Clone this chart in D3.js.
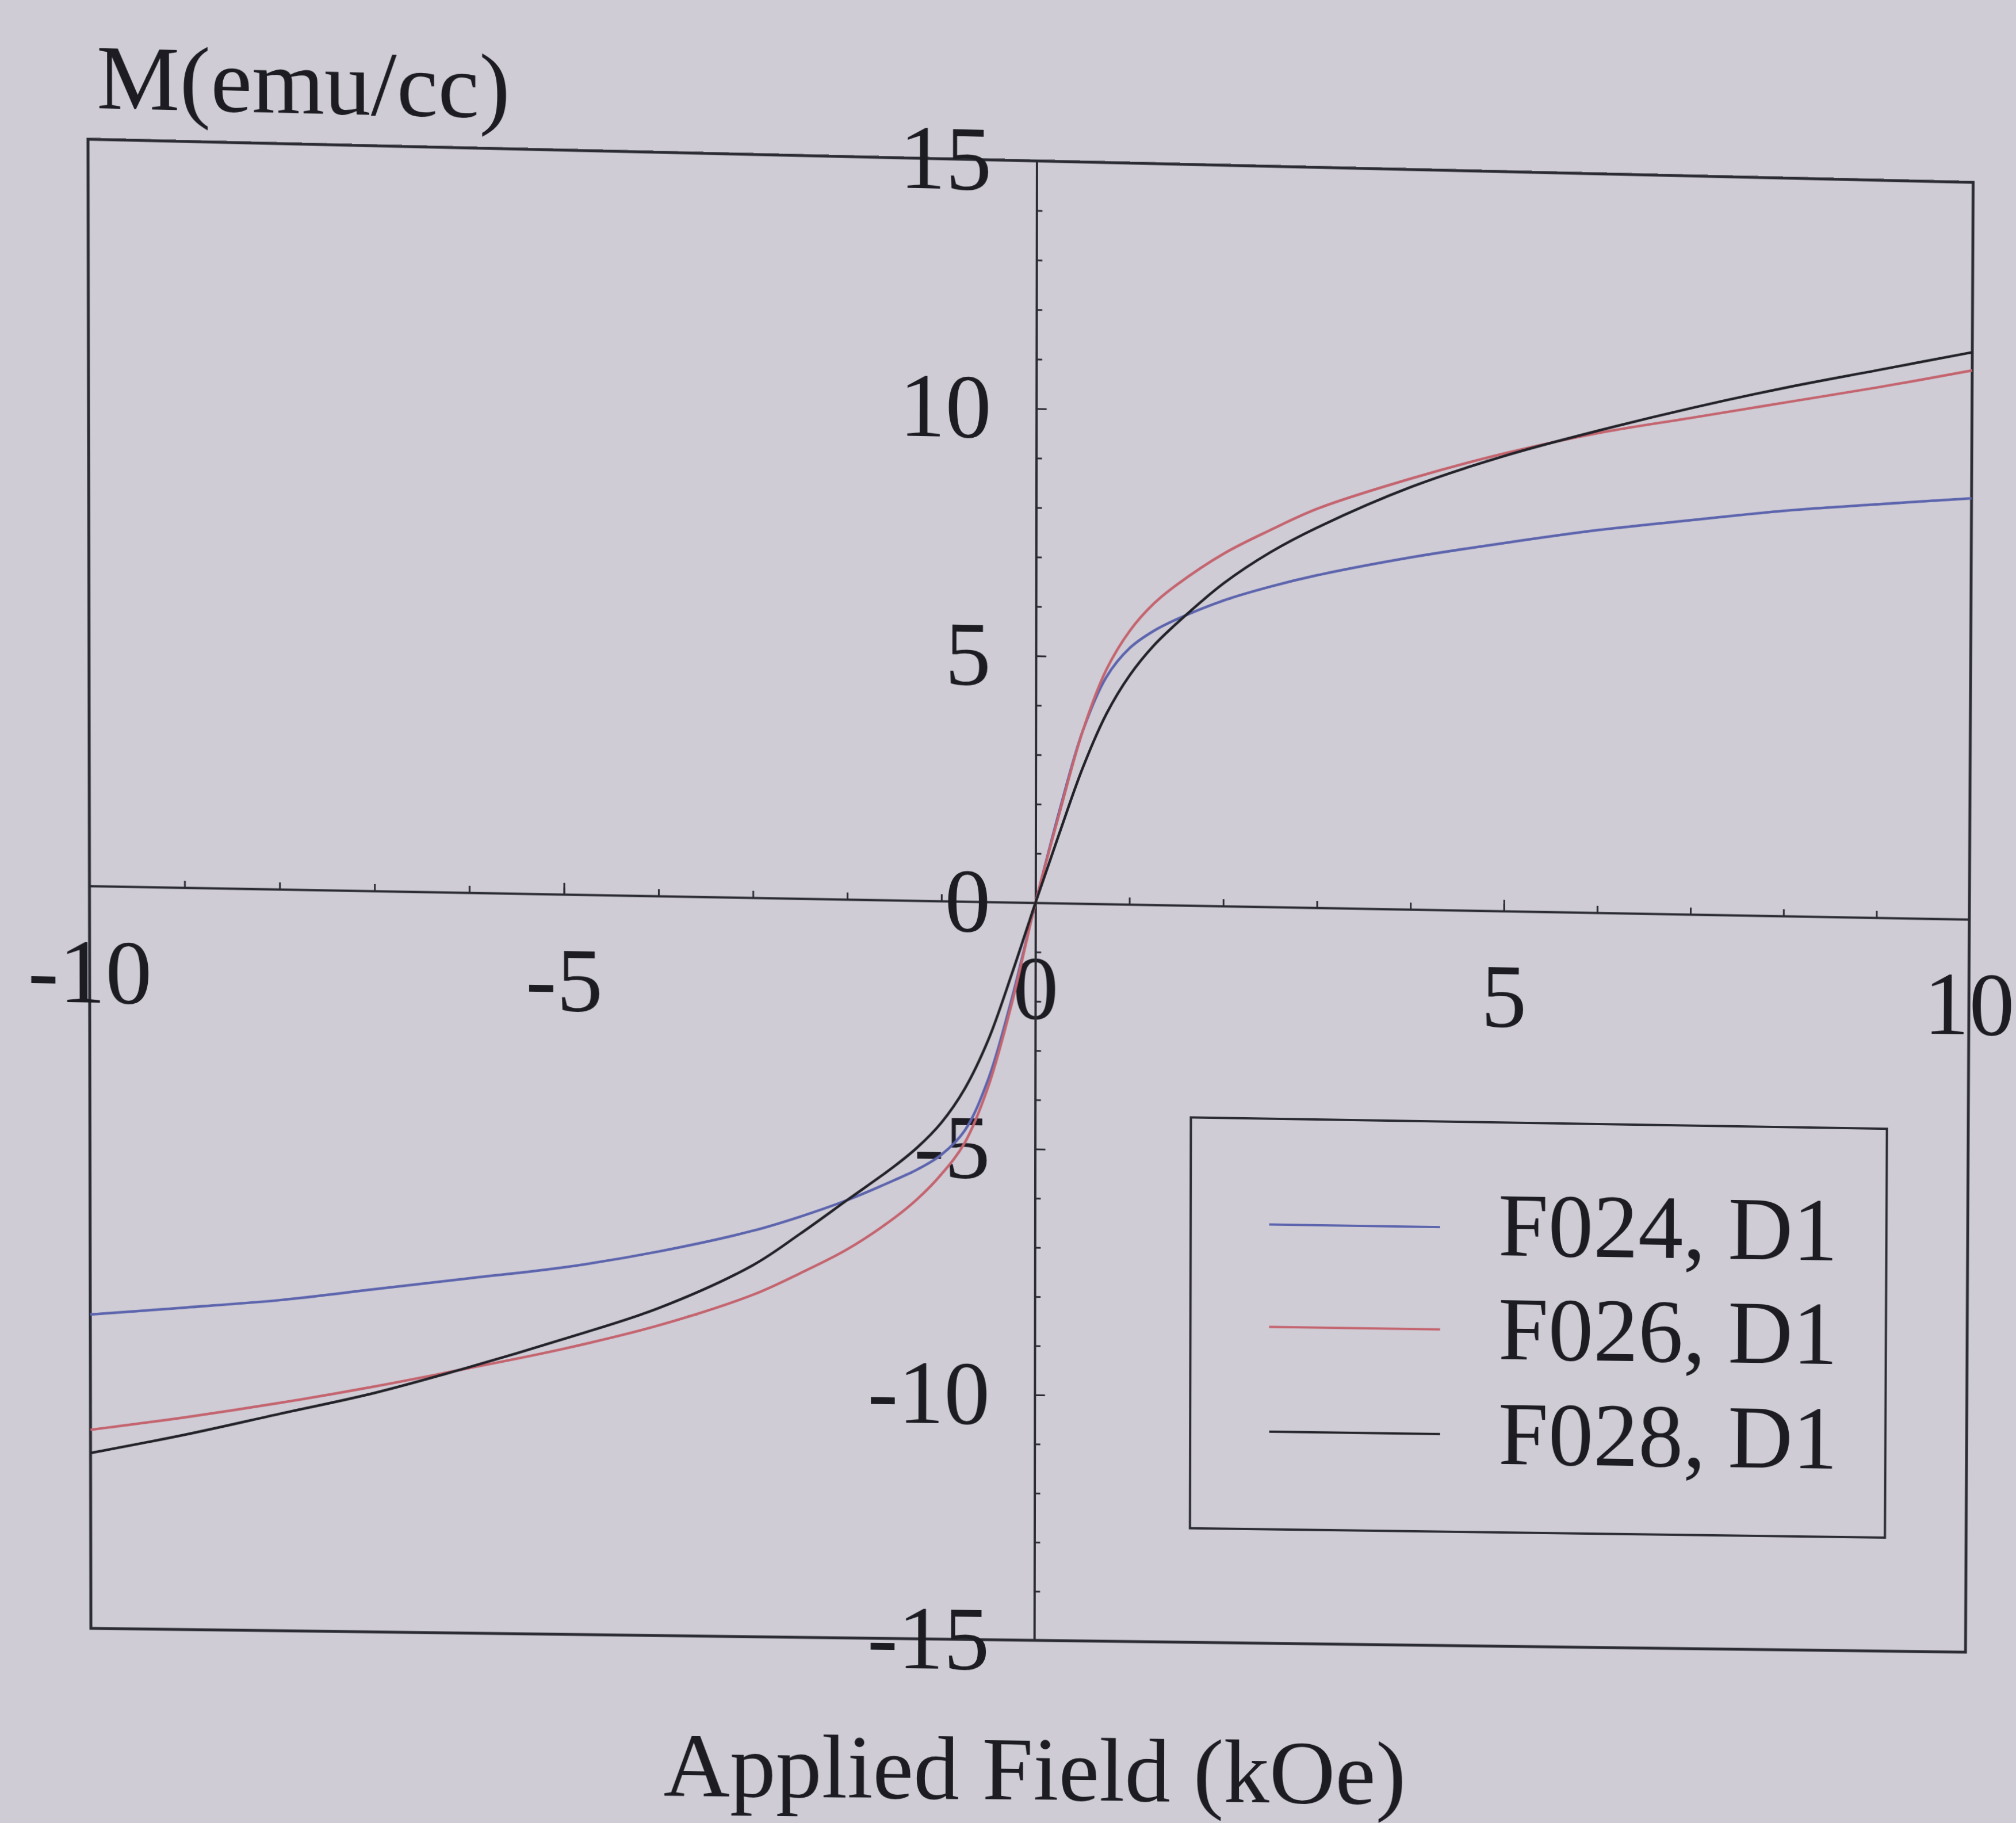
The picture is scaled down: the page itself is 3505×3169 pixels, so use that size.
<!DOCTYPE html>
<html><head><meta charset="utf-8">
<script src="https://cdn.jsdelivr.net/npm/d3@7"></script>
<style>
html,body{margin:0;padding:0;background:#cfccd6;overflow:hidden;}
#wrap{position:absolute;left:0;top:0;width:3505px;height:3169px;transform-origin:0 0;}
</style></head><body>
<div id="wrap"></div>
<script>
// ---------------- data ----------------
const xTicks = [-10, -5, 0, 5, 10];
const yTicks = [-15, -10, -5, 0, 5, 10, 15];
const xMinorTicks = [-10,-9,-8,-7,-6,-5,-4,-3,-2,-1,0,1,2,3,4,5,6,7,8,9,10];
const yMinorTicks = [-15,-14,-13,-12,-11,-10,-9,-8,-7,-6,-5,-4,-3,-2,-1,0,1,2,3,4,5,6,7,8,9,10,11,12,13,14,15];
const seriesNames = ["F024, D1", "F026, D1", "F028, D1"];
const field = [-10,-9,-8,-7,-6,-5,-4,-3,-2.5,-2,-1.5,-1.25,-1,-0.75,-0.5,-0.25,0,0.25,0.5,0.75,1,1.25,1.5,2,2.5,3,4,5,6,7,8,9,10];
const f024 = [-8.65,-8.48,-8.3,-8.05,-7.8,-7.55,-7.2,-6.75,-6.45,-6.1,-5.68,-5.45,-5.15,-4.65,-3.6,-1.95,0,1.85,3.5,4.6,5.2,5.55,5.8,6.2,6.5,6.75,7.15,7.48,7.78,8.02,8.25,8.42,8.58];
const f026 = [-10.98,-10.7,-10.38,-10.02,-9.62,-9.2,-8.7,-8.05,-7.6,-7.1,-6.45,-6.05,-5.55,-4.9,-3.75,-2.05,0,1.8,3.5,4.75,5.55,6.1,6.5,7.15,7.65,8.1,8.75,9.3,9.75,10.1,10.45,10.8,11.18];
const f028 = [-11.45,-11.05,-10.6,-10.15,-9.6,-9.0,-8.35,-7.45,-6.8,-6.1,-5.4,-5.0,-4.5,-3.8,-2.8,-1.45,0,1.4,2.75,3.85,4.65,5.25,5.72,6.55,7.2,7.72,8.58,9.25,9.8,10.3,10.75,11.15,11.55];
const seriesValues = [f024, f026, f028];
const seriesColors = ["#5c64ad", "#c4646e", "#222228"];

// ---------------- layout ----------------
const W = 3505, H = 3169;
const L = 155, R = 3428, T = 258, B = 2850;   // flat plot rectangle
// where the photographed plot corners actually are
const src = [[L,T],[R,T],[L,B],[R,B]];
const dst = [[153,242],[3430,317],[158,2830],[3416,2871]];

function solve(A, b){
  const n = b.length;
  const M = A.map((r,i)=>r.concat([b[i]]));
  for (let c=0;c<n;c++){
    let p=c; for(let r=c+1;r<n;r++) if(Math.abs(M[r][c])>Math.abs(M[p][c])) p=r;
    [M[c],M[p]]=[M[p],M[c]];
    for(let r=0;r<n;r++){ if(r===c) continue; const f=M[r][c]/M[c][c];
      for(let k=c;k<=n;k++) M[r][k]-=f*M[c][k]; }
  }
  return M.map((r,i)=>r[n]/r[i]);
}
const A=[], bb=[];
for (let i=0;i<4;i++){
  const [u,v]=src[i], [x,y]=dst[i];
  A.push([u,v,1,0,0,0,-u*x,-v*x]); bb.push(x);
  A.push([0,0,0,u,v,1,-u*y,-v*y]); bb.push(y);
}
const h = solve(A, bb);
const Hm = [[h[0],h[1],h[2]],[h[3],h[4],h[5]],[h[6],h[7],1]];
function inv3(m){
  const [a,b,c]=m[0],[d,e,f]=m[1],[g,hh,i]=m[2];
  const Aa=e*i-f*hh, Bb=-(d*i-f*g), Cc=d*hh-e*g;
  const det=a*Aa+b*Bb+c*Cc;
  return [[Aa/det, -(b*i-c*hh)/det, (b*f-c*e)/det],
          [Bb/det, (a*i-c*g)/det, -(a*f-c*d)/det],
          [Cc/det, -(a*hh-b*g)/det, (a*e-b*d)/det]];
}
const Hi = inv3(Hm);
function toFlat(x,y){ const w=Hi[2][0]*x+Hi[2][1]*y+Hi[2][2];
  return [(Hi[0][0]*x+Hi[0][1]*y+Hi[0][2])/w, (Hi[1][0]*x+Hi[1][1]*y+Hi[1][2])/w]; }

const wrap = document.getElementById("wrap");
wrap.style.transform = `matrix3d(${h[0]},${h[3]},0,${h[6]},${h[1]},${h[4]},0,${h[7]},0,0,1,0,${h[2]},${h[5]},0,1)`;

const svg = d3.select("#wrap").append("svg").attr("width", W).attr("height", H)
  .style("font-family", "'Liberation Serif','Times New Roman',serif");

const x = d3.scaleLinear().domain([-10,10]).range([L,R]);
const y = d3.scaleLinear().domain([-15,15]).range([B,T]);
const ink = "#2b2b33";
const textInk = "#1c1c22";
const fam = "'Liberation Serif','Times New Roman',serif";

// frame
svg.append("rect").attr("x",L).attr("y",T).attr("width",R-L).attr("height",B-T)
  .attr("fill","none").attr("stroke",ink).attr("stroke-width",5);

// x axis through y=0
const gx = svg.append("g").attr("transform",`translate(0,${y(0)})`);
gx.call(d3.axisBottom(x).tickValues(xMinorTicks).tickSize(-12).tickSizeOuter(0).tickFormat(""));
gx.call(g=>g.select(".domain").remove());
const gx2 = svg.append("g").attr("transform",`translate(0,${y(0)})`)
  .call(d3.axisBottom(x).tickValues(xTicks).tickSize(-20).tickSizeOuter(0).tickPadding(89).tickFormat(d=>String(d)));
gx2.select(".domain").attr("stroke",ink).attr("stroke-width",4);
gx2.selectAll("text").attr("font-size",160).attr("fill",textInk).attr("font-family",fam);

// y axis through x=0
const gy = svg.append("g").attr("transform",`translate(${x(0)},0)`);
gy.call(d3.axisLeft(y).tickValues(yMinorTicks).tickSize(-10).tickSizeOuter(0).tickFormat(""));
gy.call(g=>g.select(".domain").remove());
const gy2 = svg.append("g").attr("transform",`translate(${x(0)},0)`)
  .call(d3.axisLeft(y).tickValues(yTicks).tickSize(-18).tickSizeOuter(0).tickPadding(78).tickFormat(d=>String(d)));
gy2.select(".domain").attr("stroke",ink).attr("stroke-width",4);
gy2.selectAll("text").attr("font-size",160).attr("fill",textInk).attr("font-family",fam);
svg.selectAll("g .tick line").attr("stroke",ink).attr("stroke-width",3);

// curves
const line = d3.line().x(d=>x(d[0])).y(d=>y(d[1])).curve(d3.curveCatmullRom.alpha(0.5));
const gc = svg.append("g");
seriesValues.forEach((vals,i)=>{
  gc.append("path").datum(field.map((f,j)=>[f,vals[j]]))
    .attr("d", line).attr("fill","none").attr("stroke",seriesColors[i]).attr("stroke-width",4.5);
});

// axis titles
let p = toFlat(168,188);
svg.append("text").attr("x",p[0]).attr("y",p[1]).attr("font-size",160).attr("fill",textInk).text("M(emu/cc)");
p = toFlat(1800,3128);
svg.append("text").attr("x",p[0]).attr("y",p[1]).attr("font-size",160).attr("fill",textInk)
  .attr("text-anchor","middle").text("Applied Field (kOe)");

// legend
const lt = toFlat(2070,1942), lb = toFlat(3276,2672);
svg.append("rect").attr("x",lt[0]).attr("y",lt[1]).attr("width",lb[0]-lt[0]).attr("height",lb[1]-lt[1])
  .attr("fill","none").attr("stroke",ink).attr("stroke-width",4);
const legY = [2128, 2306, 2488];
const legTextY = [2182, 2362, 2544];
seriesNames.forEach((name,i)=>{
  const a = toFlat(2206, legY[i]), b2 = toFlat(2503, legY[i]);
  svg.append("line").attr("x1",a[0]).attr("y1",a[1]).attr("x2",b2[0]).attr("y2",a[1])
    .attr("stroke",seriesColors[i]).attr("stroke-width",4);
  const t = toFlat(2604, legTextY[i]);
  svg.append("text").attr("x",t[0]).attr("y",t[1]).attr("font-size",158).attr("fill",textInk).text(name);
});
</script>
</body></html>
